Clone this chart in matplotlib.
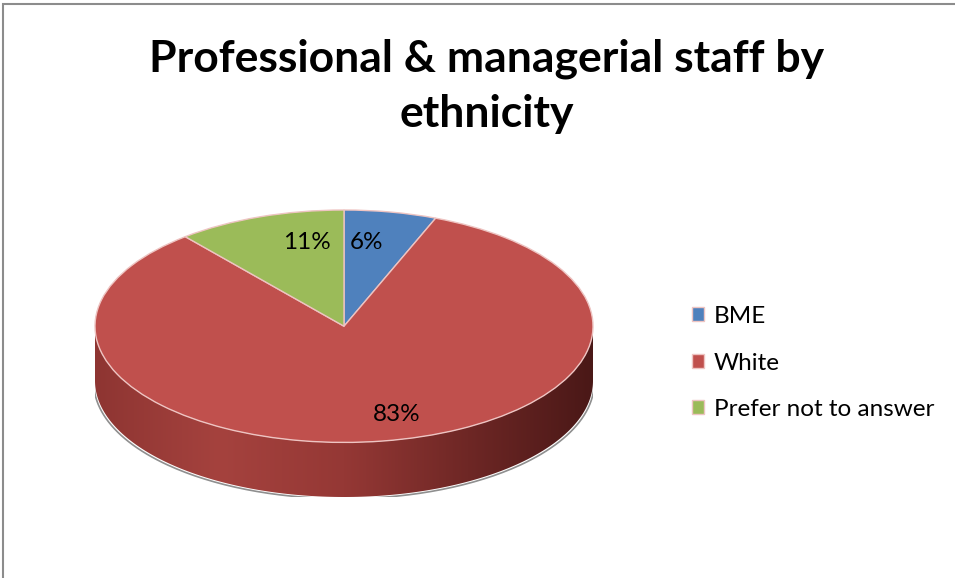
import numpy as np
import matplotlib.pyplot as plt
from matplotlib.colors import LinearSegmentedColormap
from matplotlib.patches import Polygon, Rectangle

plt.rcParams['font.family'] = ['Lato', 'DejaVu Sans']

# datos
categories = ['BME', 'White', 'Prefer not to answer']
values = [6, 83, 11]
colors = ['#4f81bd', '#c0504d', '#9bbb59']
title = 'Professional & managerial staff by\nethnicity'

W, H = 955, 578
fig = plt.figure(figsize=(W / 100, H / 100), dpi=100)

# marco gris del grafico
fig.patches.append(Rectangle((3 / W, -0.05), 1.1, 1 - 4 / H + 0.05,
                             transform=fig.transFigure, fill=False,
                             edgecolor='#8c8c8c', linewidth=1.5))

fig.text(487 / W, 1 - 86 / H, title, ha='center', va='center',
         fontsize=32, fontweight='bold', linespacing=1.45)

# ejes del pastel: elipse de 498x230 px, profundidad 54 px
depth = 54 / 115
ax = fig.add_axes([95 / W, 81 / H, 498 / W, 287 / H])

# lateral del pastel con degradado
t = np.linspace(np.pi, 2 * np.pi, 200)
top = np.column_stack([np.cos(t), np.sin(t)])
bot = np.column_stack([np.cos(t[::-1]), np.sin(t[::-1]) - depth])
side = Polygon(np.vstack([top, bot]), closed=True, facecolor='none',
               edgecolor='none')
ax.add_patch(side)
cmap = LinearSegmentedColormap.from_list(
    'lado', ['#8e3532', '#a5423e', '#953835', '#6e2725', '#4a1817'])
grad = np.linspace(0, 1, 256).reshape(1, -1)
im = ax.imshow(grad, extent=(-1, 1, -1 - depth, 0), aspect='auto',
               cmap=cmap, zorder=0)
im.set_clip_path(side)

# sombra
ax.plot(np.cos(t) * 1.005, np.sin(t) - depth - 0.015, color='#444444',
        lw=1.2, alpha=0.6, zorder=0)

wedges, texts, autotexts = ax.pie(
    values, colors=colors, startangle=90, counterclock=False,
    autopct='%.0f%%', pctdistance=0.72,
    wedgeprops=dict(edgecolor='#eec4c2', linewidth=1.0),
    textprops=dict(fontsize=17.5, color='black'))
autotexts[1].set_position((0.21, -0.76))
autotexts[0].set_position((0.09, 0.72))
autotexts[2].set_position((-0.15, 0.72))

ax.set_aspect('auto')
ax.set_xlim(-1, 1)
ax.set_ylim(-1 - depth, 1)
ax.axis('off')

fig.legend(wedges, categories, loc='center left',
           bbox_to_anchor=(670 / W, 1 - 363 / H), frameon=False,
           fontsize=17.5, handlelength=0.5, handleheight=0.5,
           handletextpad=0.4, labelspacing=1.05)

fig.savefig('out.png', dpi=100)
